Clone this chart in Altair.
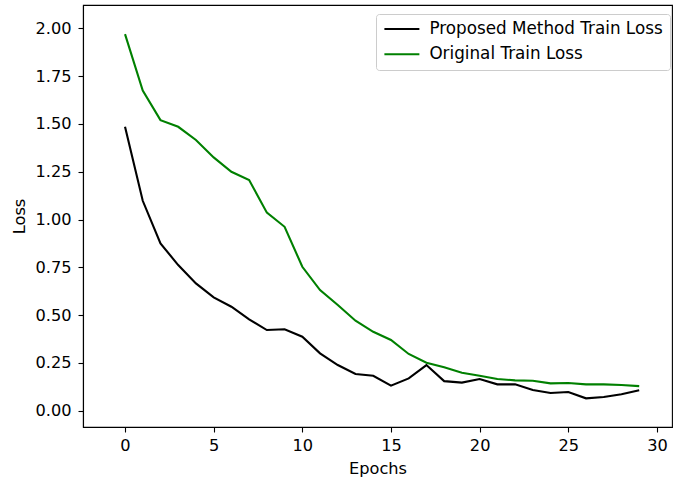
import altair as alt
import pandas as pd

epochs = list(range(30))
proposed = [1.485, 1.098, 0.875, 0.762, 0.666, 0.593, 0.544, 0.478, 0.422, 0.426,
            0.387, 0.300, 0.239, 0.192, 0.183, 0.131, 0.169, 0.239, 0.155, 0.147,
            0.166, 0.138, 0.138, 0.108, 0.093, 0.098, 0.065, 0.072, 0.086, 0.107]
original = [1.970, 1.674, 1.520, 1.485, 1.416, 1.325, 1.250, 1.207, 1.036, 0.962,
            0.753, 0.631, 0.553, 0.471, 0.413, 0.370, 0.297, 0.251, 0.227, 0.199,
            0.183, 0.166, 0.159, 0.157, 0.143, 0.145, 0.138, 0.138, 0.135, 0.129]
series_names = ["Proposed Method Train Loss", "Original Train Loss"]
series_colors = ["#000000", "#008000"]
x_ticks = [0, 5, 10, 15, 20, 25, 30]
y_ticks = [0.0, 0.25, 0.5, 0.75, 1.0, 1.25, 1.5, 1.75, 2.0]

df = pd.concat([
    pd.DataFrame({"Epoch": epochs, "Loss": proposed, "Series": series_names[0]}),
    pd.DataFrame({"Epoch": epochs, "Loss": original, "Series": series_names[1]}),
])

FONT = "DejaVu Sans"
FS = 16.2
LFS = 16.8

chart = alt.Chart(df).mark_line(strokeWidth=2.1).encode(
    x=alt.X("Epoch:Q",
            scale=alt.Scale(domain=[-2.37, 30.85], nice=False, zero=False),
            axis=alt.Axis(title="Epochs", values=x_ticks, format="d", grid=False,
                          tickSize=5, labelPadding=5, titlePadding=7)),
    y=alt.Y("Loss:Q",
            scale=alt.Scale(domain=[-0.085, 2.122], nice=False, zero=False),
            axis=alt.Axis(title="Loss", values=y_ticks, format=".2f", grid=False,
                          tickSize=5, labelPadding=7, titlePadding=7)),
    color=alt.Color("Series:N",
                    scale=alt.Scale(domain=series_names, range=series_colors),
                    legend=alt.Legend(title=None, orient="none", legendX=293, legendY=9,
                                      symbolType="M-1.2,0H5.16", symbolSize=121,
                                      symbolStrokeWidth=2.1,
                                      labelFontSize=LFS, labelFont=FONT, labelLimit=400,
                                      labelOffset=30, rowPadding=7.2, padding=6.6,
                                      strokeColor="#cccccc", fillColor="white",
                                      cornerRadius=3)),
    order=alt.Order("Epoch:Q"),
).properties(
    width=589, height=422,
    autosize=alt.AutoSizeParams(type="none"),
    padding={"left": 83, "top": 5, "right": 1, "bottom": 58},
).configure_view(
    stroke="black", strokeWidth=1.1
).configure_axis(
    labelFont=FONT, labelFontSize=FS, labelColor="black",
    titleFont=FONT, titleFontSize=FS, titleFontWeight="normal", titleColor="black",
    domainColor="black", domainWidth=1.1, tickColor="black", tickWidth=1.1,
)

chart.save("out.html", embed_options={"renderer": "svg", "actions": False})
